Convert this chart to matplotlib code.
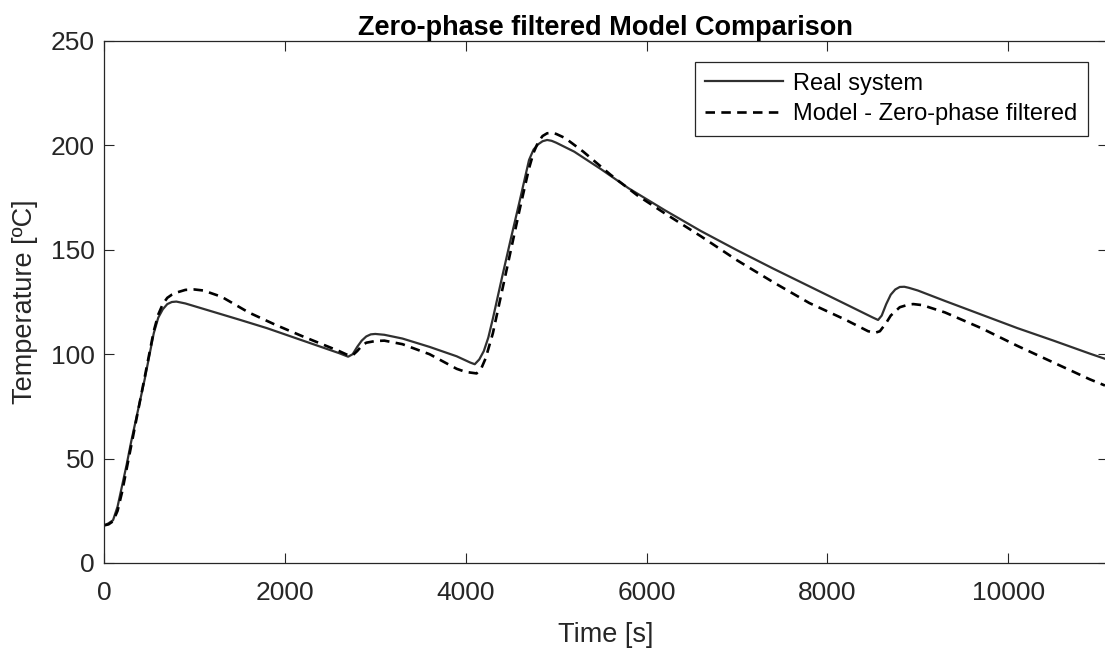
import matplotlib
matplotlib.use("Agg")
import matplotlib.pyplot as plt

plt.rcParams['font.family'] = ['Liberation Sans', 'DejaVu Sans']

# Measured temperature of the real system
real_t = [0, 50, 100, 150, 200, 250, 300, 350, 400, 450, 500, 550, 600, 650, 700,
          750, 800, 900, 1000, 1200, 1500, 1800, 2100, 2400, 2600, 2700, 2750, 2800,
          2850, 2900, 2950, 3000, 3100, 3300, 3600, 3900, 4050, 4100, 4150, 4200,
          4250, 4300, 4400, 4500, 4600, 4700, 4750, 4800, 4850, 4900, 4950, 5000,
          5200, 5500, 5800, 6200, 6600, 7000, 7400, 7800, 8200, 8500, 8560, 8600,
          8650, 8700, 8750, 8800, 8850, 8900, 9000, 9300, 9700, 10100, 10500, 10900,
          11069]
real_T = [18, 19, 20.5, 27, 37, 47, 58, 68, 78, 88, 99, 110, 117.5, 121.5, 124,
          125, 125.2, 124.3, 123, 120.4, 116.5, 112.5, 108, 103.5, 100.5, 98.8, 100,
          103.5, 106.5, 108.5, 109.5, 109.7, 109.3, 107.5, 103.5, 99, 96, 95.2, 97.5,
          101.5, 108, 117, 136.5, 155.5, 174, 193, 198, 200.5, 202, 202.6, 202.2,
          201.3, 197, 188.5, 179.5, 169, 159, 149.8, 141, 132.5, 124, 117.6, 116.4,
          118.5, 124, 128.5, 131, 132.2, 132.3, 131.8, 130.5, 125.5, 119, 112.5,
          106.5, 100.3, 97.8]

# Model output after zero-phase filtering
model_t = [0, 50, 100, 150, 200, 250, 300, 350, 400, 450, 500, 550, 600, 650, 700,
           750, 800, 900, 1000, 1100, 1300, 1600, 1900, 2200, 2400, 2600, 2700,
           2750, 2800, 2850, 2900, 3000, 3100, 3300, 3600, 3900, 4000, 4120, 4170,
           4220, 4300, 4400, 4500, 4600, 4700, 4750, 4800, 4850, 4900, 4950, 5000,
           5100, 5300, 5600, 5900, 6200, 6600, 7000, 7400, 7800, 8200, 8450, 8530,
           8580, 8650, 8700, 8800, 8900, 8950, 9050, 9300, 9700, 10100, 10500,
           10900, 11069]
model_T = [18, 18.5, 20, 25, 34, 45, 56, 67, 78, 89, 100, 111, 119, 124, 127,
           128.5, 129.5, 130.8, 131, 130.5, 127.5, 120, 114, 108.5, 105, 101.5,
           99.5, 99.5, 101.5, 104, 105.5, 106.3, 106.5, 104.8, 100, 93, 91.5, 90.8,
           93, 98, 110, 130, 150, 170, 189, 196.5, 201.5, 204.5, 205.8, 206, 205.5,
           203.5, 197, 186, 176, 167.5, 156.5, 145, 134.5, 124.5, 116.5, 111, 110.3,
           111, 115, 118.5, 122.5, 123.8, 124, 123.5, 120, 112.5, 104, 96, 88, 85]

x_ticks = [0, 2000, 4000, 6000, 8000, 10000]
y_ticks = [0, 50, 100, 150, 200, 250]

W, H = 1105, 648
fig = plt.figure(figsize=(W / 100, H / 100), dpi=100)
x_max = 11100
px_per_unit = 904.3 / 10000
left_px, top_px, bottom_px = 104, 41, 563
ax = fig.add_axes([left_px / W, (H - bottom_px) / H,
                   x_max * px_per_unit / W, (bottom_px - top_px) / H])

axis_col = '#262626'
ax.plot(real_t, real_T, color='#303030', lw=1.6, label='Real system')
ax.plot(model_t, model_T, color='black', lw=1.9, dashes=(3.6, 2.4),
        label='Model - Zero-phase filtered')

ax.set_xlim(0, x_max)
ax.set_ylim(0, 250)
ax.set_xticks(x_ticks)
ax.set_yticks(y_ticks)
ax.tick_params(direction='in', length=7, width=0.8, colors=axis_col,
               labelsize=19, top=True, right=True)
ax.tick_params(axis='x', pad=13)
ax.tick_params(axis='y', pad=6.5)
for s in ax.spines.values():
    s.set_color(axis_col)
    s.set_linewidth(0.9)

ax.set_xlabel('Time [s]', fontsize=19.5, color=axis_col, labelpad=12)
ax.set_ylabel('Temperature [ºC]', fontsize=19.5, color=axis_col, labelpad=9)
ax.set_title('Zero-phase filtered Model Comparison', fontsize=19.5,
             fontweight='bold', pad=4)

leg = ax.legend(loc='upper right', bbox_to_anchor=(1088 / W, 1 - 62 / H),
                bbox_transform=fig.transFigure, borderaxespad=0, fontsize=17,
                fancybox=False, framealpha=1, edgecolor=axis_col,
                handlelength=3.3, handletextpad=0.42, borderpad=0.45,
                labelspacing=0.36)
leg.get_frame().set_linewidth(0.9)

fig.savefig('out.png', dpi=100)
